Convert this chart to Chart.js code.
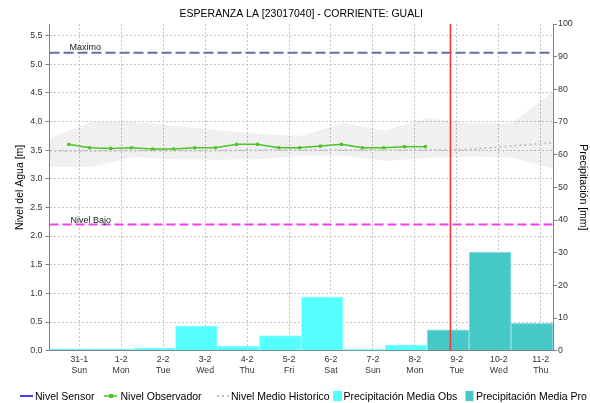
<!DOCTYPE html>
<html>
<head>
<meta charset="utf-8">
<title>ESPERANZA LA [23017040] - CORRIENTE: GUALI</title>
<script src="https://cdn.jsdelivr.net/npm/chart.js@4.4.0/dist/chart.umd.min.js"></script>
<style>
  html, body { margin: 0; padding: 0; background: #fff; }
  canvas { display: block; }
</style>
</head>
<body>
<canvas id="chart" width="590" height="403"></canvas>
<script>
// x values are days counted from 31-1 00:00
const chartTitle = 'ESPERANZA LA [23017040] - CORRIENTE: GUALI';
const dayTicks = [0, 1, 2, 3, 4, 5, 6, 7, 8, 9, 10, 11];
const dayLabels = ['31-1', '1-2', '2-2', '3-2', '4-2', '5-2', '6-2', '7-2', '8-2', '9-2', '10-2', '11-2'];
const dayNames = ['Sun', 'Mon', 'Tue', 'Wed', 'Thu', 'Fri', 'Sat', 'Sun', 'Mon', 'Tue', 'Wed', 'Thu'];

const levelTicks = [0, 0.5, 1, 1.5, 2, 2.5, 3, 3.5, 4, 4.5, 5, 5.5];
const precipTicks = [0, 10, 20, 30, 40, 50, 60, 70, 80, 90, 100];

// Nivel observador (06:00 y 18:00)
const obsTimes = [-0.25, 0.25, 0.75, 1.25, 1.75, 2.25, 2.75, 3.25, 3.75, 4.25, 4.75, 5.25, 5.75, 6.25, 6.75, 7.25, 7.75, 8.25];
const obsLevel = [3.60, 3.54, 3.53, 3.54, 3.52, 3.52, 3.54, 3.54, 3.60, 3.60, 3.54, 3.54, 3.57, 3.60, 3.54, 3.54, 3.56, 3.56];

// historico (07:00)
const histTimes = [-0.7083, 0.2917, 1.2917, 2.2917, 3.2917, 4.2917, 5.2917, 6.2917, 7.2917, 8.2917, 9.2917, 10.2917, 11.2917];
const histMax  = [3.71, 3.99, 3.99, 3.92, 3.85, 3.78, 3.75, 3.97, 3.84, 4.06, 3.97, 3.97, 4.52];
const histMin  = [3.21, 3.21, 3.37, 3.34, 3.33, 3.34, 3.40, 3.40, 3.31, 3.36, 3.39, 3.37, 3.18];
const histMean = [3.48, 3.48, 3.49, 3.49, 3.49, 3.50, 3.50, 3.50, 3.50, 3.50, 3.51, 3.57, 3.63];

// precipitacion diaria (dia que cierra a las 07:00)
const precipObsDays = [0, 1, 2, 3, 4, 5, 6, 7, 8];
const precipObs = [0.5, 0.5, 0.9, 7.6, 1.5, 4.6, 16.5, 0.4, 1.8];
const precipProDays = [9, 10, 11];
const precipPro = [6.4, 30.2, 8.4];

const levelMaximo = 5.2;
const levelBajo = 2.2;
const nowDay = 8.847;

const X_MIN = -17 / 24;
const X_MAX = 11 + 7 / 24;
const Y_MAX = 5.7;
const DAY_CLOSE = 7 / 24;

const FONT = '"Liberation Sans", Arial, sans-serif';

function points(xs, ys) {
    return xs.map((x, i) => ({ x: x, y: ys[i] }));
}
function barCenters(days) {
    return days.map(d => d + DAY_CLOSE - 0.5);
}

const overlay = {
    id: 'overlay',
    afterDraw(chart) {
        const ctx = chart.ctx;
        const area = chart.chartArea;
        const y = chart.scales.y;
        ctx.save();
        ctx.fillStyle = '#000';
        ctx.textAlign = 'center';
        ctx.textBaseline = 'middle';
        ctx.font = '10.5px ' + FONT;
        ctx.fillText(chartTitle, (area.left + area.right) / 2, 14);

        ctx.textAlign = 'left';
        ctx.textBaseline = 'alphabetic';
        ctx.font = '9px ' + FONT;
        ctx.fillStyle = '#222';
        ctx.fillText('Maximo', area.left + 20, y.getPixelForValue(levelMaximo) - 2.5);
        ctx.fillText('Nivel Bajo', area.left + 21, y.getPixelForValue(levelBajo) - 1.5);

        // legend
        const ly = 396;
        ctx.font = '10.5px ' + FONT;
        ctx.fillStyle = '#000';
        ctx.lineWidth = 1.5;

        ctx.strokeStyle = '#0000ff';
        ctx.beginPath(); ctx.moveTo(20, ly); ctx.lineTo(33, ly); ctx.stroke();
        ctx.fillText('Nivel Sensor', 35, 399.5);

        ctx.strokeStyle = '#4ec32a';
        ctx.beginPath(); ctx.moveTo(104, ly); ctx.lineTo(117, ly); ctx.stroke();
        ctx.fillStyle = '#4ec32a';
        ctx.fillRect(109, ly - 2, 4, 4);
        ctx.fillStyle = '#000';
        ctx.fillText('Nivel Observador', 120.5, 399.5);

        ctx.strokeStyle = '#c4c4c4';
        ctx.lineWidth = 2;
        ctx.setLineDash([2, 3]);
        ctx.beginPath(); ctx.moveTo(217, ly); ctx.lineTo(229, ly); ctx.stroke();
        ctx.setLineDash([]);
        ctx.fillText('Nivel Medio Historico', 231, 399.5);

        ctx.fillStyle = '#55ffff';
        ctx.fillRect(333, 391, 9, 10);
        ctx.fillStyle = '#000';
        ctx.fillText('Precipitación Media Obs', 343.5, 399.5);

        ctx.fillStyle = '#46c8c8';
        ctx.fillRect(465.5, 391, 8, 10);
        ctx.fillStyle = '#000';
        ctx.fillText('Precipitación Media Pro', 476, 399.5);
        ctx.restore();
    }
};

new Chart(document.getElementById('chart'), {
    type: 'line',
    data: {
        datasets: [
            {
                label: 'now',
                data: [{ x: nowDay, y: 0 }, { x: nowDay, y: Y_MAX }],
                borderColor: '#ff3030',
                borderWidth: 1.5,
                pointRadius: 0,
                yAxisID: 'y',
                order: 0
            },
            {
                label: 'Nivel Sensor',
                data: [],
                borderColor: '#0000ff',
                yAxisID: 'y',
                order: 1
            },
            {
                label: 'Nivel Observador',
                data: points(obsTimes, obsLevel),
                borderColor: '#4ec32a',
                backgroundColor: '#4ec32a',
                borderWidth: 1.5,
                pointStyle: 'rect',
                pointRadius: 2.2,
                pointBorderWidth: 0,
                yAxisID: 'y',
                order: 1
            },
            {
                label: 'Maximo',
                data: [{ x: X_MIN, y: levelMaximo }, { x: X_MAX, y: levelMaximo }],
                borderColor: '#6670a0',
                borderWidth: 2,
                borderDash: [10, 4],
                pointRadius: 0,
                yAxisID: 'y',
                order: 2
            },
            {
                label: 'Nivel Bajo',
                data: [{ x: X_MIN, y: levelBajo }, { x: X_MAX, y: levelBajo }],
                borderColor: '#f040f0',
                borderWidth: 2,
                borderDash: [9, 4],
                pointRadius: 0,
                yAxisID: 'y',
                order: 2
            },
            {
                label: 'Nivel Medio Historico',
                data: points(histTimes, histMean),
                borderColor: '#c4c4c4',
                borderWidth: 2,
                borderDash: [2, 3],
                pointRadius: 0,
                yAxisID: 'y',
                order: 3
            },
            {
                type: 'bar',
                label: 'Precipitación Media Obs',
                data: points(barCenters(precipObsDays), precipObs),
                backgroundColor: '#55ffff',
                borderColor: '#b0ffff',
                borderWidth: 1,
                borderSkipped: 'bottom',
                barPercentage: 1,
                categoryPercentage: 1,
                grouped: false,
                yAxisID: 'y1',
                order: 4
            },
            {
                type: 'bar',
                label: 'Precipitación Media Pro',
                data: points(barCenters(precipProDays), precipPro),
                backgroundColor: '#46c8c8',
                borderColor: '#9de0e0',
                borderWidth: 1,
                borderSkipped: 'bottom',
                barPercentage: 1,
                categoryPercentage: 1,
                grouped: false,
                yAxisID: 'y1',
                order: 4
            },
            {
                label: 'Max historico',
                data: points(histTimes, histMax),
                borderWidth: 0,
                borderColor: 'rgba(0,0,0,0)',
                backgroundColor: 'rgba(0,0,0,0.06)',
                pointRadius: 0,
                fill: '+1',
                yAxisID: 'y',
                order: 5
            },
            {
                label: 'Min historico',
                data: points(histTimes, histMin),
                borderWidth: 0,
                borderColor: 'rgba(0,0,0,0)',
                pointRadius: 0,
                fill: false,
                yAxisID: 'y',
                order: 5
            }
        ]
    },
    options: {
        responsive: false,
        animation: false,
        layout: { padding: { top: 24, left: 0, right: 0, bottom: 0 } },
        plugins: {
            legend: { display: false },
            title: { display: false },
            tooltip: { enabled: false }
        },
        scales: {
            x: {
                type: 'linear',
                min: X_MIN,
                max: X_MAX,
                offset: false,
                afterFit: (scale) => { scale.height = 52.3; },
                afterBuildTicks: (scale) => { scale.ticks = dayTicks.map(v => ({ value: v })); },
                grid: {
                    color: '#c4c4c4',
                    drawTicks: false,
                    offset: false
                },
                border: { color: '#808080', dash: [2, 2] },
                ticks: {
                    autoSkip: false,
                    maxRotation: 0,
                    padding: 3,
                    color: '#333',
                    font: { family: FONT, size: 8.8, lineHeight: 1.3 },
                    callback: (value, index) => [dayLabels[index], dayNames[index]]
                }
            },
            y: {
                position: 'left',
                min: 0,
                max: Y_MAX,
                afterFit: (scale) => { scale.width = 49.5; },
                afterBuildTicks: (scale) => { scale.ticks = levelTicks.map(v => ({ value: v })); },
                grid: {
                    color: '#c4c4c4',
                    tickLength: 4,
                    tickColor: '#808080',
                    tickBorderDash: []
                },
                border: { color: '#808080', dash: [2, 2] },
                ticks: {
                    padding: 3,
                    color: '#333',
                    font: { family: FONT, size: 8.8 },
                    callback: (value) => value.toFixed(1)
                },
                title: {
                    display: true,
                    text: 'Nivel del Agua [m]',
                    color: '#000',
                    font: { family: FONT, size: 10.5 },
                    padding: { top: 13.7, bottom: 0 }
                }
            },
            y1: {
                position: 'right',
                min: 0,
                max: 100,
                afterFit: (scale) => { scale.width = 37; },
                afterBuildTicks: (scale) => { scale.ticks = precipTicks.map(v => ({ value: v })); },
                grid: {
                    drawOnChartArea: false,
                    tickLength: 4,
                    tickColor: '#808080'
                },
                border: { color: '#808080' },
                ticks: {
                    padding: 1,
                    color: '#333',
                    font: { family: FONT, size: 8.8 }
                },
                title: {
                    display: true,
                    text: 'Precipitación [mm]',
                    color: '#000',
                    font: { family: FONT, size: 10.5 },
                    padding: { top: 0.7, bottom: 0 }
                }
            }
        }
    },
    plugins: [overlay]
});
</script>
</body>
</html>
